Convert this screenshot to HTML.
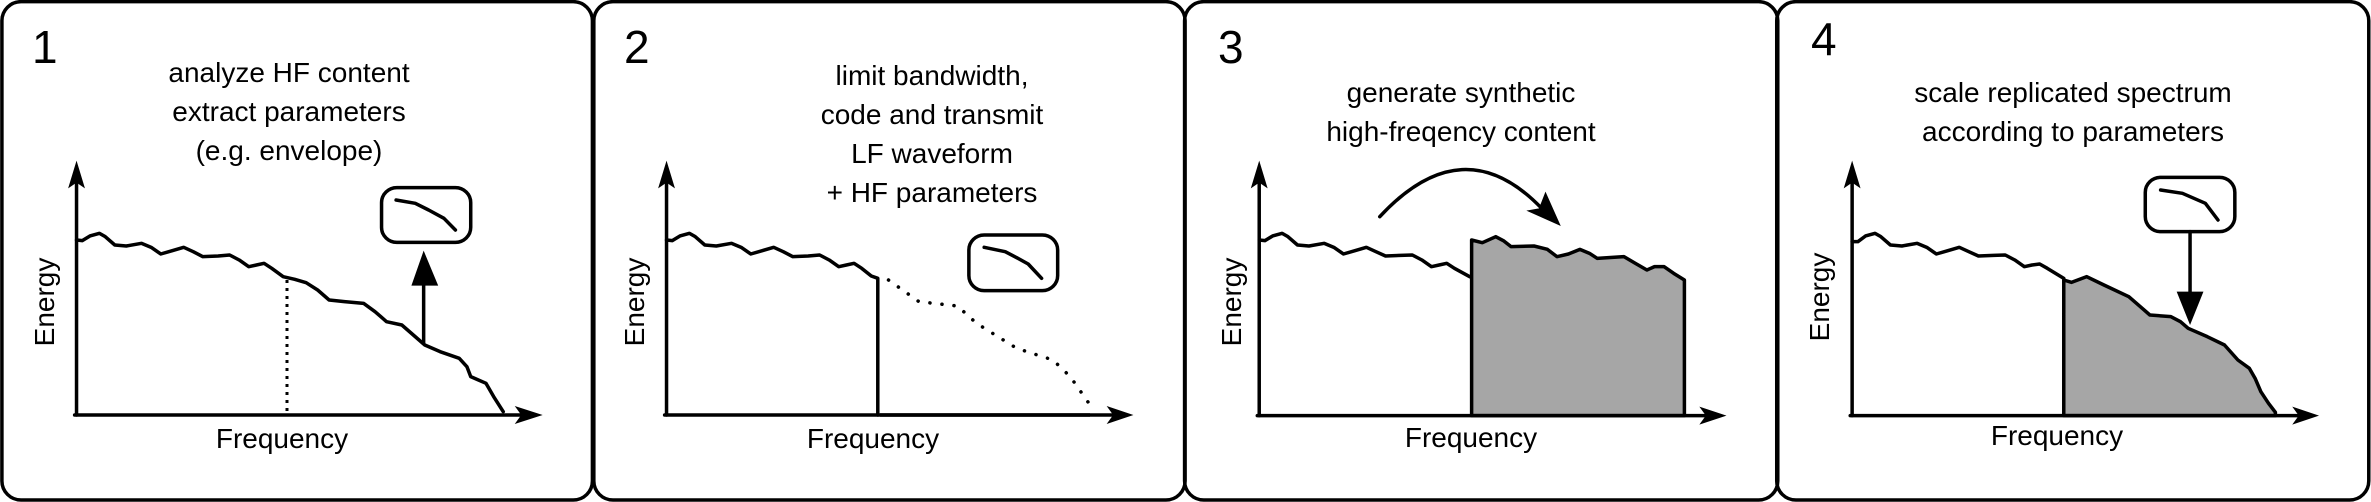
<!DOCTYPE html>
<html><head><meta charset="utf-8"><style>
html,body{margin:0;padding:0;background:#fff;}
svg{display:block;}
text{font-family:"Liberation Sans",Arial,sans-serif;fill:#000;}
.s{fill:none;stroke:#000;stroke-width:3.5;vector-effect:non-scaling-stroke;stroke-linejoin:round;stroke-linecap:round;}
.g{fill:#a6a6a6;stroke:#000;stroke-width:3.5;vector-effect:non-scaling-stroke;stroke-linejoin:round;}
.t{font-size:28px;text-anchor:middle;}
.n{font-size:46px;}
</style></head><body>
<svg width="2371" height="502" viewBox="0 0 2371 502" xmlns="http://www.w3.org/2000/svg">

<!-- Panel 1 -->
<g transform="translate(0,0) scale(0.3827,0.33333)">
<rect class="s" x="5" y="5" width="1543" height="1495" rx="50" ry="57"/>
<line class="s" x1="200" y1="1245" x2="200" y2="540"/>
<polygon points="200,482 222,565 200,548 178,565"/>
<line class="s" x1="195" y1="1245" x2="1380" y2="1245"/>
<polygon points="1418,1245 1345,1218 1362,1245 1345,1272"/>
<polyline class="s" points="200,720 215,722 235,708 260,700 275,710 300,735 330,738 370,730 395,742 420,762 450,752 480,742 505,755 530,770 570,768 600,765 625,780 650,800 670,795 690,790 710,805 740,830 770,838 800,848 830,870 860,900 900,905 950,910 980,935 1010,965 1050,975 1080,1005 1110,1035 1150,1055 1200,1075 1220,1100 1230,1130 1270,1150 1290,1190 1315,1235"/>
<rect class="s" x="997" y="563" width="233" height="164" rx="40" ry="45"/>
<polyline class="s" points="1035,600 1085,610 1120,630 1160,655 1190,690"/>
<line class="s" x1="1107" y1="1030" x2="1107" y2="840"/>
<polygon points="1107,752 1145,857 1075,857"/>
</g>
<line x1="287" y1="280" x2="287" y2="413" stroke="#000" stroke-width="3" stroke-dasharray="3 5"/>
<text class="n" x="32" y="63">1</text>
<text class="t" x="289" y="82">analyze HF content</text>
<text class="t" x="289" y="121">extract parameters</text>
<text class="t" x="289" y="160">(e.g. envelope)</text>
<text class="t" transform="translate(54,302) rotate(-90)">Energy</text>
<text class="t" x="282" y="448">Frequency</text>

<!-- Panel 2 -->
<g transform="translate(590,0) scale(0.3827,0.33333)">
<rect class="s" x="10" y="5" width="1545" height="1495" rx="50" ry="57"/>
<line class="s" x1="200" y1="1245" x2="200" y2="540"/>
<polygon points="200,482 222,565 200,548 178,565"/>
<line class="s" x1="195" y1="1245" x2="1385" y2="1245"/>
<polygon points="1420,1245 1350,1218 1367,1245 1350,1272"/>
<polyline class="s" points="200,720 215,722 235,708 260,700 275,710 300,735 330,738 370,730 395,742 420,762 450,752 480,742 505,755 530,770 570,768 600,765 625,780 650,800 670,795 690,790 710,805 735,828 752,835 752,1245"/>
<rect class="s" x="990" y="705" width="232" height="167" rx="40" ry="45"/>
<polyline class="s" points="1030,742 1085,755 1115,773 1145,792 1180,835"/>
</g>
<polyline points="888.5,280 919,301.7 957.4,306 976.5,323.3 1016.7,348.3 1053,360 1070.3,376.7 1091.3,406.7" fill="none" stroke="#000" stroke-width="3.5" stroke-linecap="round" stroke-dasharray="0.1 12"/>
<line x1="880" y1="415" x2="1090" y2="415" stroke="#000" stroke-width="3.5"/>
<text class="n" x="624" y="63">2</text>
<text class="t" x="932" y="85">limit bandwidth,</text>
<text class="t" x="932" y="124">code and transmit</text>
<text class="t" x="932" y="163">LF waveform</text>
<text class="t" x="932" y="202">+ HF parameters</text>
<text class="t" transform="translate(644,302) rotate(-90)">Energy</text>
<text class="t" x="873" y="448">Frequency</text>

<!-- Panel 3 -->
<g transform="translate(1180,0) scale(0.3827,0.33333)">
<rect class="s" x="12" y="5" width="1550" height="1495" rx="50" ry="57"/>
<polygon class="g" points="762,1247 762,720 790,728 825,710 845,722 865,740 925,738 960,748 985,770 1015,762 1045,748 1070,760 1090,775 1160,770 1190,790 1220,810 1240,800 1265,800 1290,820 1318,840 1318,1247"/>
<line class="s" x1="207" y1="1247" x2="207" y2="540"/>
<polygon points="207,482 229,565 207,548 185,565"/>
<line class="s" x1="202" y1="1247" x2="1390" y2="1247"/>
<polygon points="1428,1247 1357,1220 1374,1247 1357,1274"/>
<polyline class="s" points="207,720 222,722 242,708 267,700 282,710 307,735 337,738 377,730 402,742 427,762 457,752 487,742 512,755 537,768 577,766 607,765 632,780 657,800 677,795 697,790 717,805 757,830"/>
<path class="s" d="M522,650 Q740,380 945,625"/>
<polygon points="995,678 905,632 938,625 955,575"/>
</g>
<text class="n" x="1218" y="63">3</text>
<text class="t" x="1461" y="102">generate synthetic</text>
<text class="t" x="1461" y="141">high-freqency content</text>
<text class="t" transform="translate(1241,302) rotate(-90)">Energy</text>
<text class="t" x="1471" y="447">Frequency</text>

<!-- Panel 4 -->
<g transform="translate(1771,0) scale(0.3827,0.33333)">
<rect class="s" x="15" y="5" width="1547" height="1495" rx="50" ry="57"/>
<polygon class="g" points="765,1247 765,840 785,847 825,830 870,855 935,890 970,925 990,945 1045,950 1070,965 1090,985 1140,1010 1185,1035 1220,1080 1250,1105 1265,1135 1280,1175 1300,1210 1318,1237 1318,1247"/>
<line class="s" x1="212" y1="1247" x2="212" y2="540"/>
<polygon points="212,482 234,565 212,548 190,565"/>
<line class="s" x1="207" y1="1247" x2="1395" y2="1247"/>
<polygon points="1432,1247 1362,1220 1379,1247 1362,1274"/>
<polyline class="s" points="212,725 227,725 247,708 272,700 287,710 312,735 342,738 382,730 407,742 432,762 462,752 492,742 517,755 542,768 582,766 612,765 637,780 662,800 682,795 702,792 722,805 765,835"/>
<rect class="s" x="978" y="532" width="234" height="163" rx="40" ry="45"/>
<polyline class="s" points="1018,570 1075,580 1135,610 1168,660"/>
<line class="s" x1="1095" y1="695" x2="1095" y2="885"/>
<polygon points="1095,975 1060,875 1130,875"/>
</g>
<text class="n" x="1811" y="55">4</text>
<text class="t" x="2073" y="102">scale replicated spectrum</text>
<text class="t" x="2073" y="141">according to parameters</text>
<text class="t" transform="translate(1829,297) rotate(-90)">Energy</text>
<text class="t" x="2057" y="445">Frequency</text>
</svg>
</body></html>
